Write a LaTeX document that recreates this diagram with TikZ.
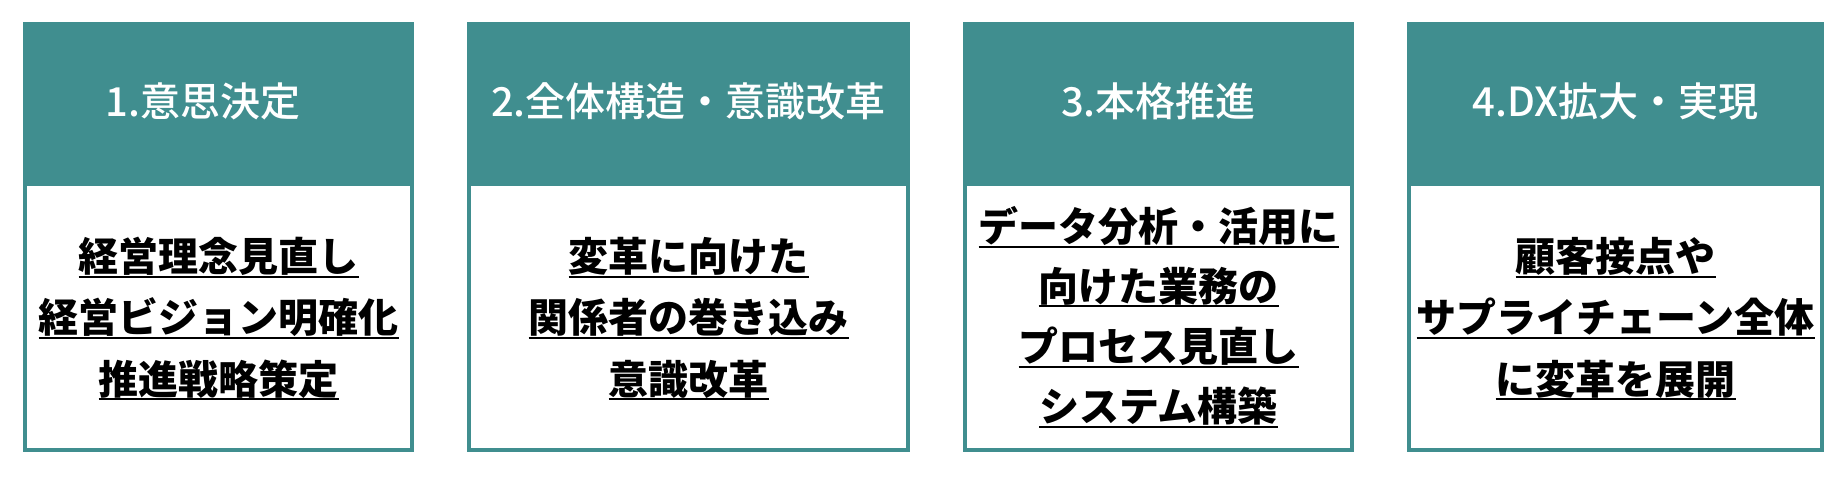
\documentclass[tikz,border=0pt]{standalone}
\usepackage{fontspec}
\newfontfamily\jp{Noto Sans CJK JP}
\newfontfamily\jpm{Noto Sans CJK JP}[UprightFont=* Medium]
\definecolor{tealhd}{HTML}{408E8F}
\newcommand\ulbar[1]{\setbox0\hbox{#1}\rlap{\rule[-6pt]{\wd0}{2pt}}\box0}
\begin{document}
\begin{tikzpicture}[x=1pt,y=-1pt,
  hd/.style={font=\jpm\fontsize{40}{40}\selectfont, text=white, anchor=base, inner sep=0},
  bd/.style={font=\jp\bfseries\fontsize{40}{40}\selectfont, text=black, anchor=base, inner sep=0}]
\useasboundingbox (0,0) rectangle (1837,478);
\fill[white] (0,0) rectangle (1837,478);
\foreach \l/\r in {23/414, 467/910, 963/1354, 1407/1824}{
  \fill[tealhd] (\l,22.5) rectangle (\r,452);
  \fill[white] (\l+4,186.5) rectangle (\r-4,448);
}
\node[hd] (h1) at (203,117) {1.意思決定};
\node[hd] (h2) at (688.5,117) {2.全体構造・意識改革};
\node[hd] (h3) at (1158.5,117) {3.本格推進};
\node[hd] (h4) at (1615.5,117) {4.DX拡大・実現};
% box 1
\node[bd] (b1a) at (218.5,272) {\ulbar{経営理念見直し}};
\node[bd] (b1b) at (218.5,333) {\ulbar{経営ビジョン明確化}};
\node[bd] (b1c) at (218.5,394) {\ulbar{推進戦略策定}};
% box 2
\node[bd] (b2a) at (688.5,272) {\ulbar{変革に向けた}};
\node[bd] (b2b) at (688.5,333) {\ulbar{関係者の巻き込み}};
\node[bd] (b2c) at (688.5,394) {\ulbar{意識改革}};
% box 3
\node[bd] (b3a) at (1158.5,241.7) {\ulbar{データ分析・活用に}};
\node[bd] (b3b) at (1158.5,301.5) {\ulbar{向けた業務の}};
\node[bd] (b3c) at (1158.5,361.7) {\ulbar{プロセス見直し}};
\node[bd] (b3d) at (1158.5,421.7) {\ulbar{システム構築}};
% box 4
\node[bd] (b4a) at (1615.5,272) {\ulbar{顧客接点や}};
\node[bd] (b4b) at (1615.5,333) {\ulbar{サプライチェーン全体}};
\node[bd] (b4c) at (1615.5,394) {\ulbar{に変革を展開}};
\end{tikzpicture}
\end{document}
